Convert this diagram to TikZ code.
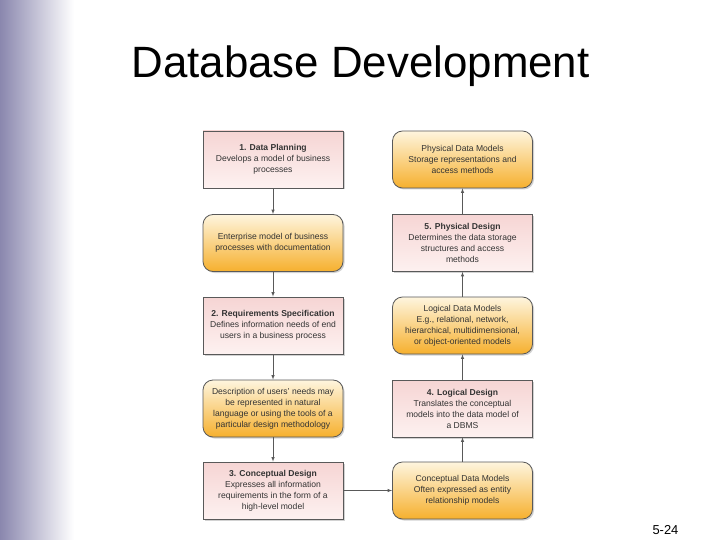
\documentclass[tikz,border=0pt]{standalone}
\usepackage{fontspec}
\setmainfont{Liberation Sans}
\usetikzlibrary{shadows}
\definecolor{barpurple}{HTML}{8A87AE}
\definecolor{pinktop}{HTML}{F6D5D4}
\definecolor{pinkbot}{HTML}{FDF1F0}
\definecolor{orangetop}{HTML}{FEF5DE}
\definecolor{orangebot}{HTML}{F6B02E}
\definecolor{boxline}{HTML}{595959}
\tikzset{
  stepbox/.style={draw=boxline, line width=0.8pt, top color=pinktop, bottom color=pinkbot,
    minimum width=140bp, minimum height=57bp, align=center,
    font=\fontsize{8.6}{11}\selectfont, text=black!80,
    drop shadow={shadow xshift=1.5bp, shadow yshift=-1.5bp, fill=black!35}},
  modelbox/.style={stepbox, rounded corners=10bp, top color=orangetop, bottom color=orangebot},
  flow/.style={draw=boxline, line width=0.6pt, -latex}
}
\begin{document}
\begin{tikzpicture}[x=1bp,y=-1bp]
    \useasboundingbox (0,0) rectangle (720,540);
    \shade[left color=barpurple, right color=white] (0,0) rectangle (74,540);
    \node[anchor=base west, font=\fontsize{44}{48}\selectfont] (title) at (128,78) {Database Development};
    % left column
    \node[stepbox] (plan) at (273,159.5) {\textbf{1. Data Planning}\\Develops a model of business\\processes};
    \node[modelbox] (enterprise) at (273,243) {Enterprise model of business\\processes with documentation};
    \node[stepbox] (req) at (273,325.5) {\textbf{2. Requirements Specification}\\Defines information needs of end\\users in a business process};
    \node[modelbox] (users) at (273,408.5) {Description of users' needs may\\be represented in natural\\language or using the tools of a\\particular design methodology};
    \node[stepbox] (concept) at (273,490.5) {\textbf{3. Conceptual Design}\\Expresses all information\\requirements in the form of a\\high-level model};
    % right column
    \node[modelbox] (physmodel) at (462.5,159.5) {Physical Data Models\\Storage representations and\\access methods};
    \node[stepbox] (physical) at (462.5,243) {\textbf{5. Physical Design}\\Determines the data storage\\structures and access\\methods};
    \node[modelbox] (logmodel) at (462.5,325.5) {Logical Data Models\\E.g., relational, network,\\hierarchical, multidimensional,\\or object-oriented models};
    \node[stepbox] (logical) at (462.5,408.5) {\textbf{4. Logical Design}\\Translates the conceptual\\models into the data model of\\a DBMS};
    \node[modelbox] (conmodel) at (462.5,490.5) {Conceptual Data Models\\Often expressed as entity\\relationship models};
    \draw[flow] (plan) -- (enterprise);
    \draw[flow] (enterprise) -- (req);
    \draw[flow] (req) -- (users);
    \draw[flow] (users) -- (concept);
    \draw[flow] (concept) -- (conmodel);
    \draw[flow] (conmodel) -- (logical);
    \draw[flow] (logical) -- (logmodel);
    \draw[flow] (logmodel) -- (physical);
    \draw[flow] (physical) -- (physmodel);
    \node[anchor=base west, font=\fontsize{13}{15}\selectfont] (page) at (649,534) {5-24};
\end{tikzpicture}
\end{document}
